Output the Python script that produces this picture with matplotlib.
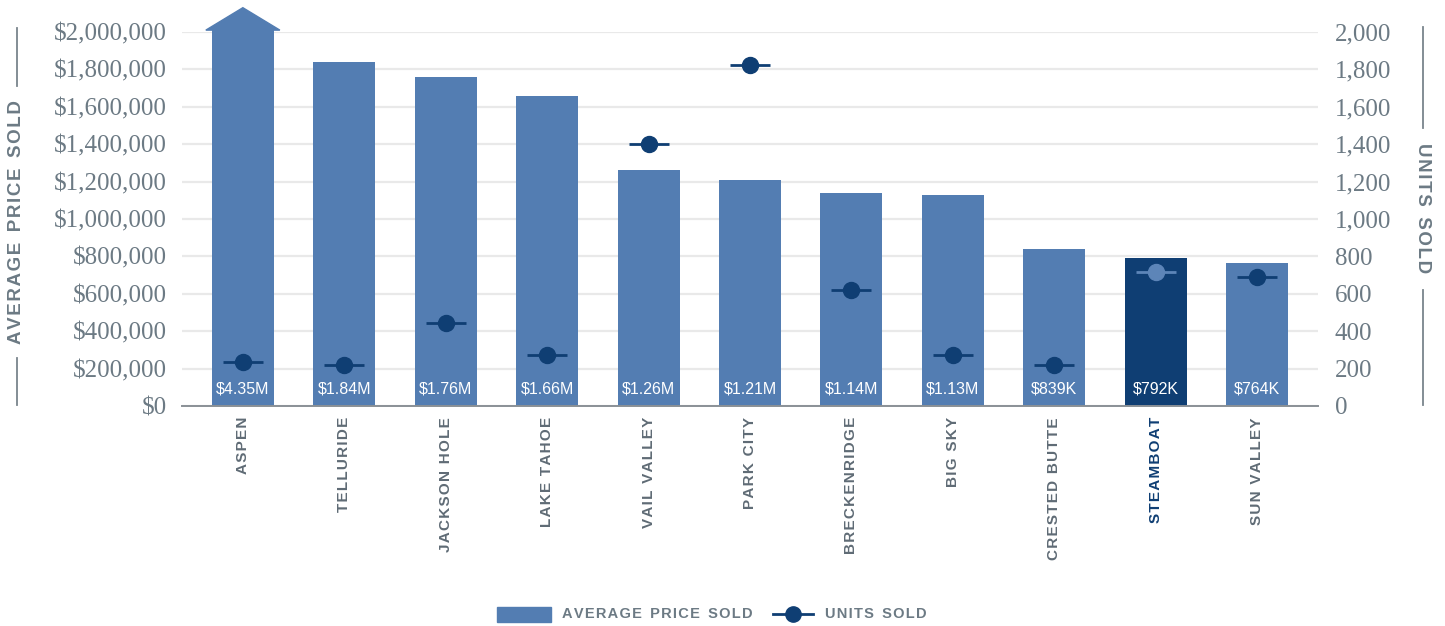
import matplotlib
matplotlib.use("Agg")
import matplotlib.pyplot as plt
from matplotlib.patches import Polygon, Rectangle
from matplotlib.lines import Line2D
from matplotlib.ticker import FuncFormatter, MultipleLocator
import numpy as np

categories = ["ASPEN", "TELLURIDE", "JACKSON HOLE", "LAKE TAHOE", "VAIL VALLEY", "PARK CITY",
              "BRECKENRIDGE", "BIG SKY", "CRESTED BUTTE", "STEAMBOAT", "SUN VALLEY"]
avg_price = [4350000, 1840000, 1760000, 1660000, 1260000, 1210000, 1140000, 1130000, 839000, 792000, 764000]
price_labels = ["$4.35M", "$1.84M", "$1.76M", "$1.66M", "$1.26M", "$1.21M", "$1.14M", "$1.13M", "$839K", "$792K", "$764K"]
units_sold = [237, 219, 444, 273, 1399, 1824, 620, 273, 219, 715, 688]
highlight = "STEAMBOAT"

LIGHT = "#537db2"
DARK = "#0f3e73"
GRAY = "#6c7a84"
LABGRAY = "#5f6b75"


def spaced(s, gap="  "):
    return "\u200a".join(list(s)).replace("\u200a \u200a", gap)


W, H = 1445, 626
fig = plt.figure(figsize=(W / 100, H / 100), dpi=100)
ax = fig.add_axes([182 / W, 1 - 406 / H, (1318 - 182) / W, (406 - 32) / H])
ax2 = ax.twinx()

ymax = 2000000
x = np.arange(len(categories))
bw = 0.61
colors = [DARK if c == highlight else LIGHT for c in categories]
shown = [min(v, ymax * 1.005) for v in avg_price]
ax.bar(x, shown, width=bw, color=colors, zorder=2, clip_on=False)

# arrow for clipped bar(s)
for i, v in enumerate(avg_price):
    if v > ymax:
        base = ymax * 1.005
        tip = ymax * 1.065
        hw = 0.365
        ax.add_patch(Polygon([[i - hw, base], [i + hw, base], [i, tip]], closed=True,
                             color=colors[i], zorder=2, clip_on=False))

for i, lab in enumerate(price_labels):
    ax.text(i, 92000, lab, ha="center", va="center", color="white",
            fontsize=11.5, family="Liberation Sans", zorder=4)

ax.set_xlim(-0.6, len(categories) - 0.4)
ax.set_ylim(0, ymax)
ax.yaxis.set_major_locator(MultipleLocator(200000))
ax.yaxis.set_major_formatter(FuncFormatter(lambda v, p: "${:,.0f}".format(v)))
ax.grid(axis="y", color="#e9e9e9", lw=1.6, zorder=0)
ax.set_axisbelow(True)
for s in ["top", "right", "left"]:
    ax.spines[s].set_visible(False)
ax.spines["bottom"].set_color("#8a9096")
ax.spines["bottom"].set_linewidth(1.4)
ax.tick_params(axis="y", length=0, pad=11, labelsize=18, labelcolor=GRAY)
ax.tick_params(axis="x", length=0, pad=8)
for lbl in ax.get_yticklabels():
    lbl.set_family("Liberation Serif")
ax.set_xticks(x)
ax.set_xticklabels(["\u200a".join(list(c)) for c in categories], rotation=90)
for lbl, c in zip(ax.get_xticklabels(), categories):
    lbl.set_color(DARK if c == highlight else LABGRAY)
    lbl.set_family(["Liberation Sans", "DejaVu Sans"])
    lbl.set_fontweight("bold")
    lbl.set_fontsize(11)
    lbl.set_va("top")

ax2.set_ylim(0, 2000)
ax2.yaxis.set_major_locator(MultipleLocator(200))
ax2.yaxis.set_major_formatter(FuncFormatter(lambda v, p: "{:,.0f}".format(v)))
ax2.tick_params(axis="y", length=0, pad=12, labelsize=18, labelcolor=GRAY)
for lbl in ax2.get_yticklabels():
    lbl.set_family("Liberation Serif")
for s in ["top", "right", "left", "bottom"]:
    ax2.spines[s].set_visible(False)

mcol = [("#5d85b8" if c == highlight else DARK) for c in categories]
for i, u in enumerate(units_sold):
    ax2.plot([i], [u], marker="_", markersize=29, markeredgewidth=2.0, color=mcol[i], ls="none", zorder=5)
    ax2.plot([i], [u], marker="o", markersize=11.5, color=mcol[i], ls="none", zorder=6)

# axis titles with decorative lines
fig.text(17 / W, 1 - 222 / H, spaced("AVERAGE PRICE SOLD"),
         rotation=90, ha="center", va="center", fontsize=13.5, fontweight="bold",
         color=GRAY, family=["Liberation Sans", "DejaVu Sans"])
fig.add_artist(Line2D([17 / W, 17 / W], [1 - 28 / H, 1 - 86 / H], color="#7a858c", lw=1.3))
fig.add_artist(Line2D([17 / W, 17 / W], [1 - 358 / H, 1 - 405 / H], color="#7a858c", lw=1.3))

fig.text(1423 / W, 1 - 208 / H, spaced("UNITS SOLD"),
         rotation=-90, ha="center", va="center", fontsize=13.5, fontweight="bold",
         color=GRAY, family=["Liberation Sans", "DejaVu Sans"])
fig.add_artist(Line2D([1423 / W, 1423 / W], [1 - 27 / H, 1 - 128 / H], color="#7a858c", lw=1.3))
fig.add_artist(Line2D([1423 / W, 1423 / W], [1 - 290 / H, 1 - 405 / H], color="#7a858c", lw=1.3))

# legend
fig.add_artist(Rectangle((497 / W, 1 - 622 / H), 54 / W, 15 / H, color=LIGHT, transform=fig.transFigure))
fig.text(562 / W, 1 - 614 / H, spaced("AVERAGE PRICE SOLD"),
         ha="left", va="center", fontsize=10.5, fontweight="bold", color=GRAY,
         family=["Liberation Sans", "DejaVu Sans"])
fig.add_artist(Line2D([773 / W, 813 / W], [1 - 614 / H, 1 - 614 / H], color=DARK, lw=2.0))
fig.add_artist(Line2D([793 / W], [1 - 614 / H], marker="o", markersize=11, color=DARK))
fig.text(825 / W, 1 - 614 / H, spaced("UNITS SOLD"),
         ha="left", va="center", fontsize=10.5, fontweight="bold", color=GRAY,
         family=["Liberation Sans", "DejaVu Sans"])

fig.savefig("out.png", dpi=100, facecolor="white")
